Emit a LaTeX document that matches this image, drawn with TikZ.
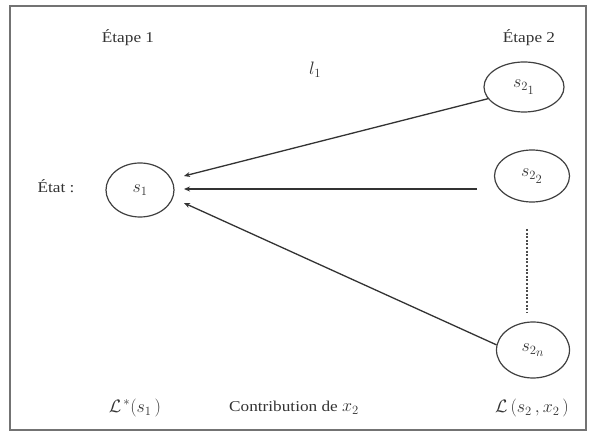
\RequirePackage{fix-cm}
\documentclass[tikz,border=0pt]{standalone}
\usepackage{fontspec}
\setmainfont{Liberation Serif}[FakeStretch=1.15]
\usetikzlibrary{arrows.meta,shapes.geometric}
\begin{document}
\begin{tikzpicture}[x=1pt,y=-1pt,
  every node/.style={font=\fontsize{15}{18}\selectfont, text=black!80},
  mth/.style={font=\fontsize{18}{21}\selectfont},
  stnode/.style={ellipse, draw=black!75, line width=1.2pt, minimum width=#1, inner sep=0pt, mth},
  arr/.style={draw=black!80, line width=1.3pt, -{Stealth[length=6pt,width=5pt]}},
  lbl/.style={inner sep=0pt}
]
\useasboundingbox (0,0) rectangle (589,435);
\fill[white] (0,0) rectangle (589,435);
\draw[black!55, line width=1.8pt] (10,6) rectangle (586,430);

\node[lbl] (e1) at (128,38) {Étape 1};
\node[lbl] (e2) at (529,38) {Étape 2};
\node[lbl, mth] (l1) at (315,70) {$l_1$};
\node[lbl] (etat) at (56,186) {État :};

\node[stnode=68pt, minimum height=54pt] (s1) at (140,190) {$s_{\scriptstyle 1}$};
\node[stnode=80pt, minimum height=50pt] (s21) at (524,87) {$s_{2_{\scriptstyle 1}}$};
\node[stnode=75pt, minimum height=52pt] (s22) at (532,176) {$s_{2_{\scriptstyle 2}}$};
\node[stnode=73pt, minimum height=56pt] (s2n) at (533,350) {$s_{2_{\scriptstyle n}}$};

\coordinate (t1) at (184,176);
\coordinate (t2) at (184,189);
\coordinate (t3) at (184,203);
\coordinate (b2) at (477,189);
\coordinate (d1) at (527,229);
\coordinate (d2) at (527,313);

\draw[arr] (s21.198) -- (t1);
\draw[arr] (b2) -- (t2);
\draw[arr] (s2n.172) -- (t3);
\draw[black!70, line width=1.3pt, dash pattern=on 2pt off 1.6pt] (d1) -- (d2);

\node[lbl, mth] (ls1) at (135,408) {$\mathcal{L}^{\,*}(s_1\,)$};
\node[lbl] (contrib) at (294,408) {Contribution de {\fontsize{18}{21}\selectfont$x_2$}};
\node[lbl, mth] (ls2) at (532,408) {$\mathcal{L}\,(s_2\,,x_2\,)$};
\end{tikzpicture}
\end{document}
